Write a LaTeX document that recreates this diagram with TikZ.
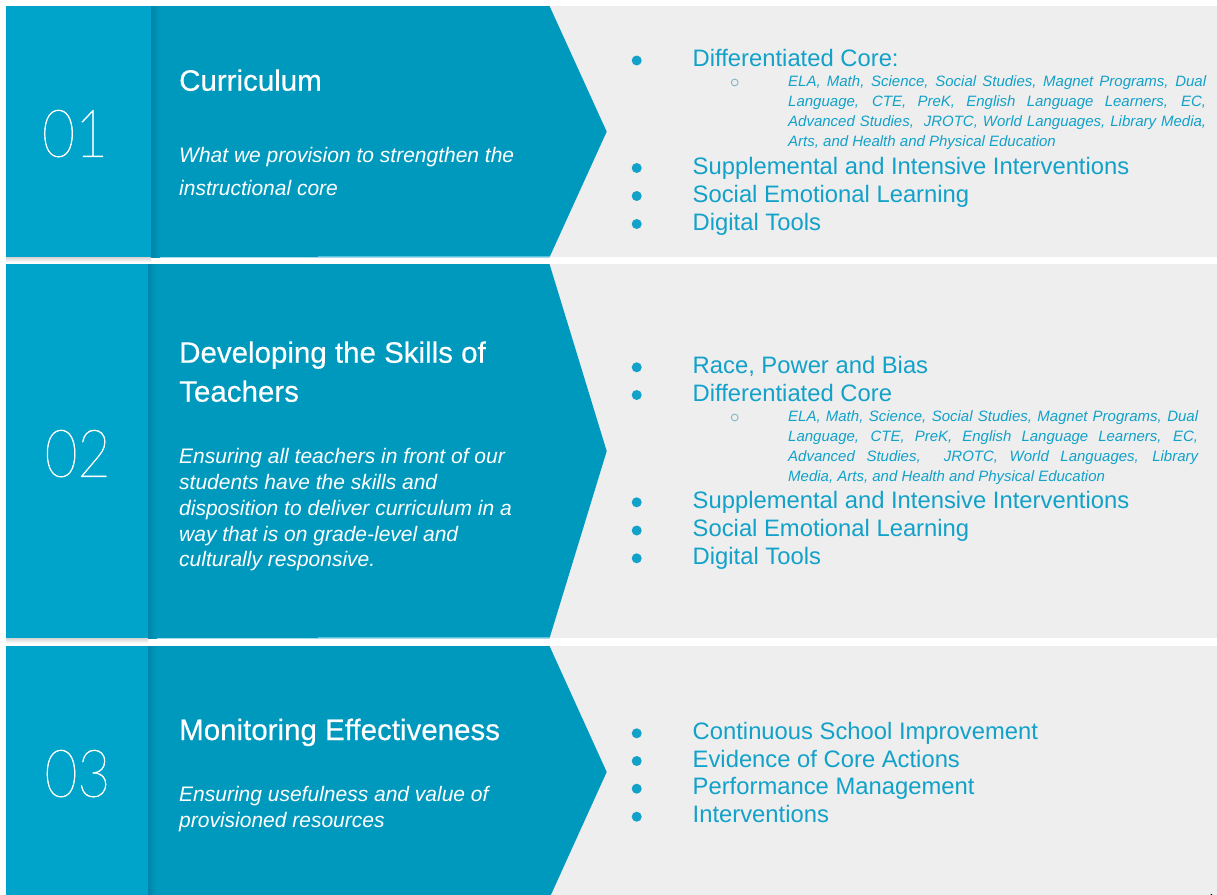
\documentclass[tikz,border=0pt]{standalone}
\usepackage{fontspec}
\setmainfont{Liberation Sans}
\newfontfamily\headfont[FakeBold=0.35]{Liberation Sans}
% thin face for the large step numbers, with fallbacks
\IfFontExistsTF{Lato Hairline}{\newfontfamily\numfont[FakeBold=0.9]{Lato Hairline}}{%
 \IfFontExistsTF{Lato-Hairline.ttf}{\newfontfamily\numfont[FakeBold=0.9]{Lato-Hairline.ttf}}{%
  \IfFontExistsTF{Lato-Thin.ttf}{\newfontfamily\numfont{Lato-Thin.ttf}}{%
   \IfFontExistsTF{Lato Light}{\newfontfamily\numfont{Lato Light}}{%
    \IfFontExistsTF{Lato-Light.ttf}{\newfontfamily\numfont{Lato-Light.ttf}}{%
     \newfontfamily\numfont{Liberation Sans}}}}}}
\definecolor{sqblue}{HTML}{00A3C9}
\definecolor{arrblue}{HTML}{0099BE}
\definecolor{arrshade}{HTML}{0086A8}
\definecolor{panelgray}{HTML}{EEEEEE}
\definecolor{listblue}{HTML}{12A1C9}
\definecolor{ringgray}{HTML}{7FB6C6}
\definecolor{edgeline}{HTML}{5CC3DE}

% one band: #1 top, #2 bottom, #3 right edge of the number block
\newcommand\bandrow[3]{%
  \fill[panelgray] (526,#1) rectangle (1217,#2);
  \fill[arrblue] (#3,#1) -- (549.5,#1) -- (606.7,{(#1+#2)/2}) -- (549.5,#2) -- (#3,#2) -- cycle;
  \shade[left color=arrshade, right color=arrblue] (#3,#1) rectangle ({#3+9},#2);
  \fill[edgeline] (318,{#2-1.5}) rectangle (549.5,#2);
  \shade[top color=black!16, bottom color=white] (6,#2) rectangle (#3,{#2+5});
  \fill[sqblue] (6,#1) rectangle (#3,#2);
}
\newcommand\stepnum[1]{\scalebox{0.86}[1]{#1}}

\begin{document}
\begin{tikzpicture}[x=1pt,y=-1pt,
  numtxt/.style={font=\numfont\fontsize{66}{66}\selectfont, text=white, inner sep=0pt, anchor=base},
  headtxt/.style={font=\headfont\fontsize{29.5}{39}\selectfont, text=white, inner sep=0pt, anchor=base west},
  desctxt/.style={font=\itshape\fontsize{21}{#1}\selectfont, text=white, inner sep=0pt, anchor=base west},
  desctxt/.default=26,
  itemtxt/.style={font=\fontsize{23.8}{28}\selectfont, text=listblue, inner sep=0pt, anchor=base west},
  subtxt/.style={font=\itshape\fontsize{15}{20}\selectfont, text=listblue, inner sep=0pt, anchor=base west},
  dot/.style={circle, fill=listblue, inner sep=0pt, minimum size=10pt},
  ring/.style={circle, draw=ringgray, line width=0.9pt, inner sep=0pt, minimum size=6.8pt},
]
\useasboundingbox (0,0) rectangle (1217,894);
\fill[white] (0,0) rectangle (1217,894);

\begin{scope}
\clip (0,0) rectangle (1217,894);
\bandrow{6}{257.3}{151}
\bandrow{264}{638.3}{148}
\bandrow{646}{898}{148}
\end{scope}

% ---- band 1 : Curriculum
\node[numtxt] (num1) at (75,156.7) {\stepnum{01}};
\node[headtxt] (head1) at (179,90.7) {Curriculum};
\node[desctxt=33] (desc1) at (179,162.7) {\parbox[t]{380pt}{What we provision to strengthen the\\instructional core}};

\node[dot] (b1a) at (636.7,60.5) {};
\node[itemtxt] (i1a) at (692.5,66.5) {Differentiated Core:};
\node[ring] (r1a) at (734.7,82.5) {};
\node[subtxt] (s1a) at (788,86.7) {\parbox[t]{418pt}{ELA, Math, Science, Social Studies, Magnet Programs, Dual\linebreak
Language, CTE, PreK, English Language Learners, EC,\linebreak
Advanced Studies,\ \ JROTC, World Languages, Library Media,\linebreak
Arts, and Health and Physical Education}};
\node[dot] (b1b) at (636.7,168) {};
\node[itemtxt] (i1b) at (692.5,174) {Supplemental and Intensive Interventions};
\node[dot] (b1c) at (636.7,196) {};
\node[itemtxt] (i1c) at (692.5,202) {Social Emotional Learning};
\node[dot] (b1d) at (636.7,224) {};
\node[itemtxt] (i1d) at (692.5,230) {Digital Tools};

% ---- band 2 : teachers
\node[numtxt] (num2) at (77.6,476.7) {\stepnum{02}};
\node[headtxt] (head2) at (179,362.7) {\parbox[t]{380pt}{Developing the Skills of\\Teachers}};
\node[desctxt=25.9] (desc2) at (179,463.3) {\parbox[t]{380pt}{Ensuring all teachers in front of our\\students have the skills and\\disposition to deliver curriculum in a\\way that is on grade-level and\\culturally responsive.}};

\node[dot] (b2a) at (636.7,367.3) {};
\node[itemtxt] (i2a) at (692.5,373.3) {Race, Power and Bias};
\node[dot] (b2b) at (636.7,395) {};
\node[itemtxt] (i2b) at (692.5,401) {Differentiated Core};
\node[ring] (r2a) at (734.7,417.5) {};
\node[subtxt] (s2a) at (788,421.7) {\parbox[t]{410pt}{ELA, Math, Science, Social Studies, Magnet Programs, Dual\linebreak
Language, CTE, PreK, English Language Learners, EC,\linebreak
Advanced Studies,\ \ JROTC, World Languages, Library\linebreak
Media, Arts, and Health and Physical Education}};
\node[dot] (b2c) at (636.7,502.3) {};
\node[itemtxt] (i2c) at (692.5,508.3) {Supplemental and Intensive Interventions};
\node[dot] (b2d) at (636.7,530.5) {};
\node[itemtxt] (i2d) at (692.5,536.5) {Social Emotional Learning};
\node[dot] (b2e) at (636.7,558.3) {};
\node[itemtxt] (i2e) at (692.5,564.3) {Digital Tools};

% ---- band 3 : monitoring
\node[numtxt] (num3) at (77.5,796.7) {\stepnum{03}};
\node[headtxt] (head3) at (179,740) {Monitoring Effectiveness};
\node[desctxt] (desc3) at (179,801.7) {\parbox[t]{380pt}{Ensuring usefulness and value of\\provisioned resources}};

\node[dot] (b3a) at (636.7,733.3) {};
\node[itemtxt] (i3a) at (692.5,739.3) {Continuous School Improvement};
\node[dot] (b3b) at (636.7,761) {};
\node[itemtxt] (i3b) at (692.5,767) {Evidence of Core Actions};
\node[dot] (b3c) at (636.7,788.7) {};
\node[itemtxt] (i3c) at (692.5,794.7) {Performance Management};
\node[dot] (b3d) at (636.7,816.7) {};
\node[itemtxt] (i3d) at (692.5,822.7) {Interventions};

% small mark in the lower right corner
\draw[black, line width=1.2pt] (1211.2,894) arc[start angle=180, end angle=60, radius=2.4];
\end{tikzpicture}
\end{document}
